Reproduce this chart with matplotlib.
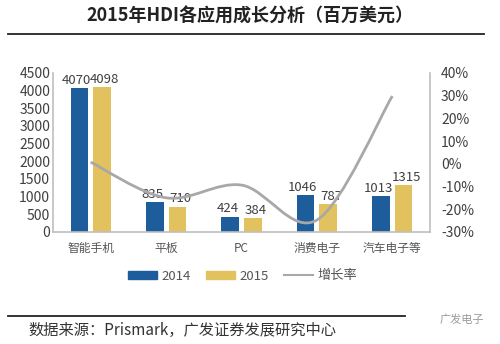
import matplotlib.pyplot as plt
import numpy as np
from matplotlib.path import Path
from matplotlib.patches import PathPatch, Patch
from matplotlib.lines import Line2D

plt.rcParams['font.family'] = ['Noto Sans CJK SC', 'DejaVu Sans']

categories = ['智能手机', '平板', 'PC', '消费电子', '汽车电子等']
v2014 = [4070, 835, 424, 1046, 1013]
v2015 = [4098, 710, 384, 787, 1315]
growth = [0.7, -15.0, -9.4, -24.8, 29.8]  # %

c2014 = '#1d5d9b'
c2015 = '#e2c25f'
cline = '#a8a8a8'
ctext = '#404040'
cspine = '#bfbfbf'

fig = plt.figure(figsize=(5, 3.44), dpi=100)
ax = fig.add_axes([0.106, 0.326, 0.754, 0.462])

x = np.arange(len(categories))
w = 0.235
off = 0.15
ax.bar(x - off, v2014, w, color=c2014, zorder=2)
ax.bar(x + off, v2015, w, color=c2015, zorder=2)
for xi, a, b in zip(x, v2014, v2015):
    ax.annotate(str(a), (xi - off, a), xytext=(-2, 1), textcoords='offset points',
                ha='center', va='bottom', fontsize=9.5, color=ctext)
    ax.annotate(str(b), (xi + off, b), xytext=(2, 1), textcoords='offset points',
                ha='center', va='bottom', fontsize=9.5, color=ctext)

ax.set_xlim(-0.5, 4.5)
ax.set_ylim(0, 4500)
ax.set_yticks(range(0, 4501, 500))
ax.set_xticks(x)
ax.set_xticklabels(categories, fontsize=8.5, color='#555555')
ax.tick_params(axis='y', length=0, pad=2, labelsize=10, labelcolor=ctext)
ax.tick_params(axis='x', length=0, pad=7)
for s in ['top', 'right']:
    ax.spines[s].set_visible(False)
for s in ['left', 'bottom']:
    ax.spines[s].set_color(cspine)
    ax.spines[s].set_linewidth(1.2)

ax2 = ax.twinx()
ax2.set_ylim(-30, 40)
ax2.set_yticks(range(-30, 41, 10))
ax2.set_yticklabels([f'{t}%' for t in range(-30, 41, 10)])
ax2.tick_params(axis='y', length=0, pad=8, labelsize=10, labelcolor=ctext)
for s in ['top', 'left', 'bottom']:
    ax2.spines[s].set_visible(False)
ax2.spines['right'].set_color(cspine)
ax2.spines['right'].set_linewidth(1.2)

# smoothed growth line (Catmull-Rom as cubic Bezier segments)
pts = np.column_stack([x, growth]).astype(float)
verts = [pts[0]]
codes = [Path.MOVETO]
n = len(pts)
for i in range(n - 1):
    p0 = pts[max(i - 1, 0)]
    p1 = pts[i]
    p2 = pts[i + 1]
    p3 = pts[min(i + 2, n - 1)]
    verts += [p1 + (p2 - p0) / 6, p2 - (p3 - p1) / 6, p2]
    codes += [Path.CURVE4] * 3
ax2.add_patch(PathPatch(Path(verts, codes), facecolor='none',
                        edgecolor=cline, lw=2, zorder=3))

handles = [Patch(color=c2014), Patch(color=c2015), Line2D([], [], color=cline, lw=1.5)]
fig.legend(handles, ['2014', '2015', '增长率'], loc='center',
           bbox_to_anchor=(0.485, 1 - 276 / 344), ncol=3, frameon=False,
           fontsize=9.5, handlelength=2.2, handleheight=0.5, columnspacing=1.2,
           handletextpad=0.3, labelcolor='#555555')

fig.text(0.5, 1 - 16 / 344, '2015年HDI各应用成长分析（百万美元）', ha='center', va='center',
         fontsize=13, fontweight='bold', color='#222222')
fig.add_artist(Line2D([8 / 500, 484 / 500], [1 - 34 / 344] * 2, color='#222222', lw=1.3))
fig.add_artist(Line2D([8 / 500, 405 / 500], [1 - 316 / 344] * 2, color='#222222', lw=1.3))
fig.text(28 / 500, 1 - 330 / 344, '数据来源：Prismark，广发证券发展研究中心', ha='left', va='center',
         fontsize=11, color='#333333')
fig.text(484 / 500, 1 - 320 / 344, '广发电子', ha='right', va='center',
         fontsize=8, color='#999999')

fig.savefig('out.png', dpi=100)
